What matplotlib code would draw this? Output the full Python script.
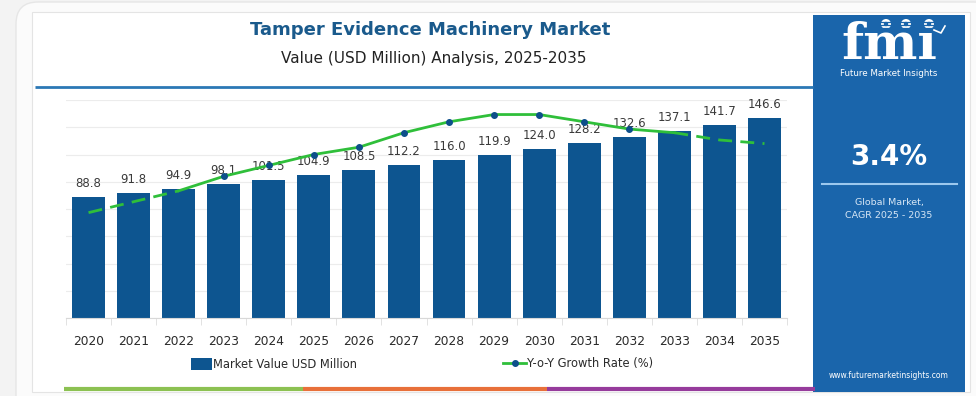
import numpy as np
import matplotlib
matplotlib.use("Agg")
import matplotlib.pyplot as plt
from matplotlib.patches import Rectangle, FancyBboxPatch, Circle
from matplotlib.lines import Line2D

plt.rcParams['font.family'] = ['DejaVu Sans']

# data
years = ['2020', '2021', '2022', '2023', '2024', '2025', '2026', '2027',
         '2028', '2029', '2030', '2031', '2032', '2033', '2034', '2035']
market_value = [88.8, 91.8, 94.9, 98.1, 101.5, 104.9, 108.5, 112.2,
                116.0, 119.9, 124.0, 128.2, 132.6, 137.1, 141.7, 146.6]
growth_rate = [3.29, 3.32, 3.35, 3.39, 3.42, 3.45, 3.47, 3.51,
               3.54, 3.56, 3.56, 3.54, 3.52, 3.51, 3.49, 3.48]
cagr = '3.4%'

# colours
bar_color = '#0d5590'
line_color = '#2fbf3a'
dot_color = '#0d4f8a'
panel_color = '#1a65ab'
title_color = '#1a5a8c'

W, H = 976, 396
fig = plt.figure(figsize=(W / 100, H / 100), dpi=100, facecolor='#f3f3f3')

# background layer in pixel coordinates
bg = fig.add_axes([0, 0, 1, 1], zorder=0)
bg.set_xlim(0, W)
bg.set_ylim(H, 0)
bg.axis('off')

bg.add_patch(FancyBboxPatch((16, 2), 980, 420, boxstyle='round,pad=0,rounding_size=22',
                            fc='#fbfbfb', ec='#e6e6e6', lw=1))
bg.add_patch(Rectangle((32, 12), 938, 380, fc='white', ec='#e4e4e4', lw=0.8))

# title block
bg.text(430, 30, 'Tamper Evidence Machinery Market', ha='center', va='center',
        fontsize=13, fontweight='bold', color=title_color)
bg.text(434, 58, 'Value (USD Million) Analysis, 2025-2035', ha='center', va='center',
        fontsize=11, color='#222222')
bg.plot([35, 813], [87, 87], color='#2b78b5', lw=2, solid_capstyle='butt')

# bottom coloured stripe
bg.plot([64, 303], [389, 389], color='#8cc152', lw=3, solid_capstyle='butt')
bg.plot([303, 547], [389, 389], color='#e8703a', lw=3, solid_capstyle='butt')
bg.plot([547, 815], [389, 389], color='#963c9c', lw=3, solid_capstyle='butt')

# right panel
bg.add_patch(Rectangle((813, 15), 152, 377, fc=panel_color, ec='none'))
bg.text(889, 59, 'fm\u0131', ha='center', va='baseline', fontsize=37, fontweight='bold',
        family='DejaVu Serif', color='white')
for yy in np.arange(22, 60, 3.2):
    bg.plot([836, 944], [yy, yy], color=panel_color, lw=0.9)
for cx in [886, 906, 929]:
    bg.add_patch(Circle((cx, 24), 5, fc='white', ec='none'))
    bg.add_patch(Circle((cx, 24), 2.2, fc=panel_color, ec='none'))
bg.plot([934, 941, 945], [30, 33, 26], color='white', lw=1.2)
bg.text(889, 74, 'Future Market Insights', ha='center', va='center', fontsize=6.3,
        color='white')
bg.text(889, 157, cagr, ha='center', va='center', fontsize=20, fontweight='bold',
        color='white')
bg.plot([822, 957], [184, 184], color='#9cc8ee', lw=1.5)
bg.text(889, 202, 'Global Market,', ha='center', va='center', fontsize=6.8,
        color='#d6e6f5')
bg.text(889, 216, 'CAGR 2025 - 2035', ha='center', va='center', fontsize=6.8,
        color='#d6e6f5')
bg.text(889, 376, 'www.futuremarketinsights.com', ha='center', va='center',
        fontsize=5.5, color='white')

# main chart
ax = fig.add_axes([66 / W, 1 - 318 / H, 721 / W, 218 / H], zorder=2)
ax.set_facecolor('none')
x = np.arange(len(years))
ax.bar(x, market_value, width=0.73, color=bar_color, zorder=2)
for xi, v in zip(x, market_value):
    ax.annotate(f'{v:.1f}', (xi, v), xytext=(0, 5), textcoords='offset points',
                ha='center', va='bottom', fontsize=8.5, color='#3a3a3a', zorder=4)

ax.set_xlim(-0.5, len(years) - 0.5)
ax.set_ylim(0, 160)
ax.set_yticks(np.arange(0, 161, 20))
ax.yaxis.grid(True, color='#ececec', lw=0.8, zorder=0)
ax.set_axisbelow(True)
ax.set_xticks(x)
ax.set_xticklabels(years, fontsize=8.8, color='#2a2a2a')
ax.tick_params(axis='x', length=0, pad=12)
ax.set_xticks(np.arange(-0.5, len(years), 1), minor=True)
ax.tick_params(axis='x', which='minor', length=5, color='#dddddd')
for s in ['left', 'right', 'top']:
    ax.spines[s].set_visible(False)
ax.spines['bottom'].set_color('#d8d8d8')

# growth line on twin axis
ax2 = ax.twinx()
ax2.set_ylim(3.0, 3.6)
ax2.axis('off')
ax.tick_params(axis='y', which='both', left=False, right=False,
               labelleft=False, labelright=False)
ax2.plot(x[:3], growth_rate[:3], color=line_color, lw=2, ls=(0, (5, 3)), zorder=3)
ax2.plot(x[2:14], growth_rate[2:14], color=line_color, lw=2, zorder=3)
ax2.plot(x[13:], growth_rate[13:], color=line_color, lw=2, ls=(0, (5, 3)), zorder=3)
ax2.plot(x[3:13], growth_rate[3:13], ls='none', marker='o', ms=4, color=dot_color,
         zorder=4)

# legends
h1 = Rectangle((0, 0), 1, 1, fc=bar_color)
h2 = Line2D([], [], color=line_color, lw=2, marker='o', ms=4,
            markerfacecolor=dot_color, markeredgecolor=dot_color)
fig.legend([h1], ['Market Value USD Million'], loc='center left',
           bbox_to_anchor=(191 / W, 1 - 364 / H), frameon=False, fontsize=8.3,
           handlelength=1.8, handleheight=1.2, handletextpad=0.1, borderpad=0,
           borderaxespad=0, labelcolor='#2a2a2a')
fig.legend([h2], ['Y-o-Y Growth Rate (%)'], loc='center left',
           bbox_to_anchor=(503 / W, 1 - 364 / H), frameon=False, fontsize=8.3,
           handlelength=2.0, handletextpad=0.1, borderpad=0, borderaxespad=0,
           labelcolor='#2a2a2a')

fig.savefig('out.png', dpi=100, facecolor=fig.get_facecolor())
